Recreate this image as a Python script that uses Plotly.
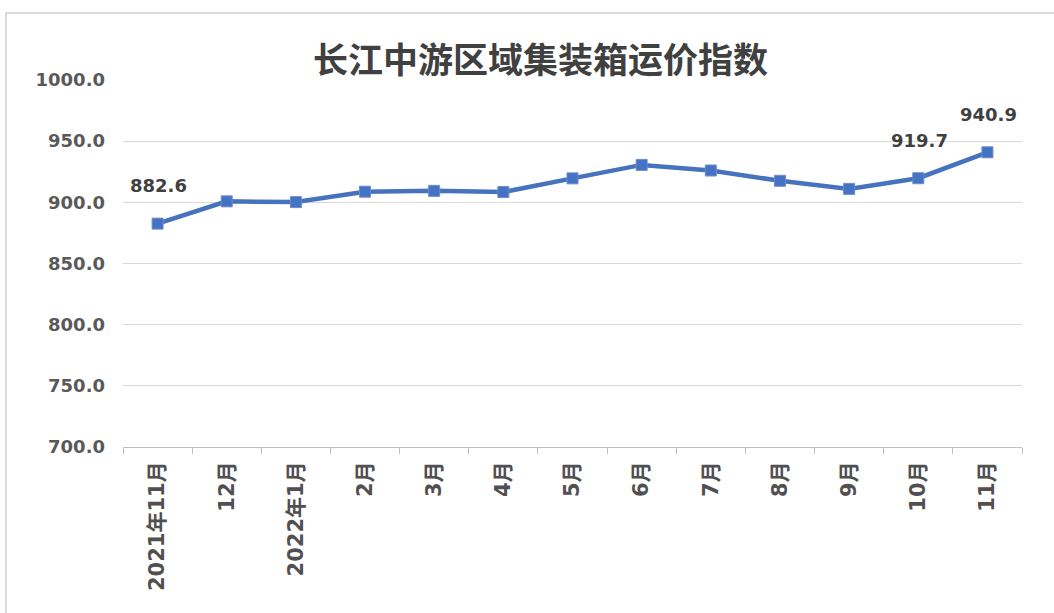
import plotly.graph_objects as go

categories = ["2021年11月", "12月", "2022年1月", "2月", "3月", "4月", "5月",
              "6月", "7月", "8月", "9月", "10月", "11月"]
values = [882.6, 900.8, 900.2, 908.7, 909.4, 908.4, 919.6, 930.6, 926.0, 917.6, 911.0, 919.7, 940.9]
label_idx = [0, 11, 12]
y_ticks = [700, 750, 800, 850, 900, 950, 1000]
y_tick_text = ["700.0", "750.0", "800.0", "850.0", "900.0", "950.0", "1000.0"]
title = "长江中游区域集装箱运价指数"

W, H = 1054, 613
L, R, T, B = 123, 1022, 80, 447

fig = go.Figure()
fig.add_trace(go.Scatter(
    x=categories, y=values, mode="lines+markers",
    line=dict(color="#4673BE", width=4.5),
    marker=dict(symbol="square", size=11, color="#4472C4",
                line=dict(color="#6E8CC8", width=1)),
    hoverinfo="x+y", showlegend=False,
))

for i in label_idx:
    fig.add_annotation(
        x=categories[i], y=values[i], text=f"{values[i]:.1f}",
        showarrow=False, yshift=38, xshift=1,
        font=dict(family="DejaVu Sans", size=18, color="#404040", weight="bold"),
    )

fig.add_annotation(
    text=title, xref="paper", yref="paper",
    x=(540 - L) / (R - L), y=(B - 57) / (B - T),
    xanchor="center", yanchor="middle", showarrow=False,
    font=dict(family="Noto Sans CJK SC", size=35, color="#404040", weight="bold"),
)

# outer border of the chart area
fig.add_shape(
    type="rect", xref="paper", yref="paper",
    x0=(6 - L) / (R - L), x1=(1060 - L) / (R - L),
    y0=(B - 620) / (B - T), y1=(B - 13) / (B - T),
    line=dict(color="#D0D0D0", width=1.5), fillcolor="rgba(0,0,0,0)", layer="below",
)

fig.update_layout(
    width=W, height=H,
    margin=dict(l=L, r=W - R, t=T, b=H - B),
    paper_bgcolor="white", plot_bgcolor="white",
    font=dict(family="DejaVu Sans, Noto Sans CJK SC", color="#595959"),
    xaxis=dict(
        type="category", range=[-0.5, len(categories) - 0.5],
        showgrid=False, showline=True, linecolor="#BFBFBF", linewidth=1,
        ticks="outside", tickson="boundaries", ticklen=6, tickcolor="#BFBFBF",
        tickangle=-90, tickfont=dict(family="DejaVu Sans, Noto Sans CJK SC", size=21,
                                     color="#505050", weight="bold"),
        ticklabelstandoff=5,
        fixedrange=True,
    ),
    yaxis=dict(
        range=[700, 1000], tickvals=y_ticks, ticktext=y_tick_text,
        showgrid=True, gridcolor="#D9D9D9", gridwidth=1,
        zeroline=False, showline=False, ticks="",
        tickfont=dict(family="DejaVu Sans", size=18, color="#595959", weight="bold"),
        ticklabelstandoff=17,
        fixedrange=True,
    ),
)

fig.write_html("out.html")
